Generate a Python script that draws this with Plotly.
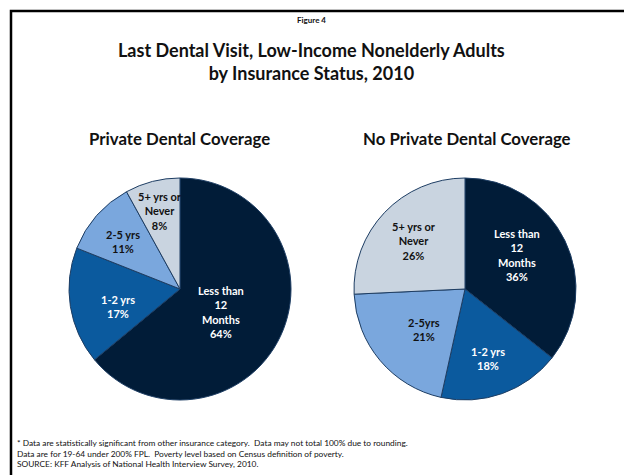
import math
import plotly.graph_objects as go

# Categories and shares (percent) of last dental visit
categories = ["Less than<br>12<br>Months", "1-2 yrs", "2-5 yrs", "5+ yrs or<br>Never"]
categories_no_private = ["Less than<br>12<br>Months", "1-2 yrs", "2-5yrs", "5+ yrs or<br>Never"]
private_values = [64, 17, 11, 8]
no_private_values = [36, 18, 21, 26]

slice_colors = ["#011c38", "#0b5a9e", "#7aa7dd", "#c9d4e0"]
text_colors = ["white", "white", "#111111", "#111111"]

W, H = 624, 475
R = 111
CY = 289
CX_LEFT, CX_RIGHT = 180, 465

# label placement per slice: (angle clockwise from top in degrees, fraction of radius)
private_label_pos = [(119, 0.42), (254, 0.58), (309.5, 0.67), (345.5, 0.73)]
no_private_label_pos = [(56.5, 0.56), (162, 0.66), (225, 0.52), (313, 0.63)]

FONT = "Lato, Carlito, Calibri, sans-serif"


def px_x(x):
    return x / W


def px_y(y):
    return 1 - y / H


def pie_domain(cx):
    return dict(x=[px_x(cx - R), px_x(cx + R)], y=[px_y(CY + R), px_y(CY - R)])


def pie_trace(labels, values, cx):
    return go.Pie(
        labels=labels,
        values=values,
        sort=False,
        direction="clockwise",
        rotation=0,
        textinfo="none",
        hoverinfo="label+percent",
        marker=dict(colors=slice_colors, line=dict(color="#1d3d63", width=1)),
        domain=pie_domain(cx),
        showlegend=False,
    )


def slice_labels(labels, values, cx, positions):
    anns = []
    for lab, val, (ang, frac), col in zip(labels, values, positions, text_colors):
        a = math.radians(ang)
        x = cx + frac * R * math.sin(a)
        y = CY - frac * R * math.cos(a)
        anns.append(dict(
            x=px_x(x), y=px_y(y), xref="paper", yref="paper",
            text=f"<b>{lab}<br>{val}%</b>", showarrow=False,
            xanchor="center", yanchor="middle", align="center",
            font=dict(family=FONT, size=11, color=col),
        ))
    return anns


def centered_text(text, x, y, size):
    return dict(x=px_x(x), y=px_y(y), xref="paper", yref="paper",
                text=text, showarrow=False, xanchor="center", yanchor="middle",
                align="center", font=dict(family=FONT, size=size, color="#111111"))


fig = go.Figure()
fig.add_trace(pie_trace(categories, private_values, CX_LEFT))
fig.add_trace(pie_trace(categories_no_private, no_private_values, CX_RIGHT))

annotations = []
annotations += slice_labels(categories, private_values, CX_LEFT, private_label_pos)
annotations += slice_labels(categories_no_private, no_private_values, CX_RIGHT, no_private_label_pos)

annotations.append(centered_text("<b>Figure 4</b>", 311, 20, 8))
annotations.append(centered_text(
    "<b>Last Dental Visit, Low-Income Nonelderly Adults<br>by Insurance Status, 2010</b>", 311, 61, 18))
annotations.append(centered_text("<b>Private Dental Coverage</b>", 180, 138, 16.8))
annotations.append(centered_text("<b>No Private Dental Coverage</b>", 467, 138, 16.8))

footnotes = [
    "* Data are statistically significant from other insurance category.  Data may not total 100% due to rounding.",
    "Data are for 19-64 under 200% FPL.  Poverty level based on Census definition of poverty.",
    "SOURCE: KFF Analysis of National Health Interview Survey, 2010.",
]
for i, line in enumerate(footnotes):
    annotations.append(dict(x=px_x(15), y=px_y(443 + i * 10.5), xref="paper", yref="paper",
                            text=line, showarrow=False, xanchor="left", yanchor="middle",
                            font=dict(family=FONT, size=8.35, color="#111111")))

fig.update_layout(
    width=W, height=H,
    margin=dict(l=0, r=0, t=0, b=0),
    paper_bgcolor="white",
    plot_bgcolor="white",
    annotations=annotations,
    shapes=[dict(type="rect", xref="paper", yref="paper",
                 x0=px_x(11), x1=1.05, y0=-0.05, y1=px_y(11),
                 line=dict(color="black", width=2.5), fillcolor="rgba(0,0,0,0)")],
)

fig.write_html("out.html")
